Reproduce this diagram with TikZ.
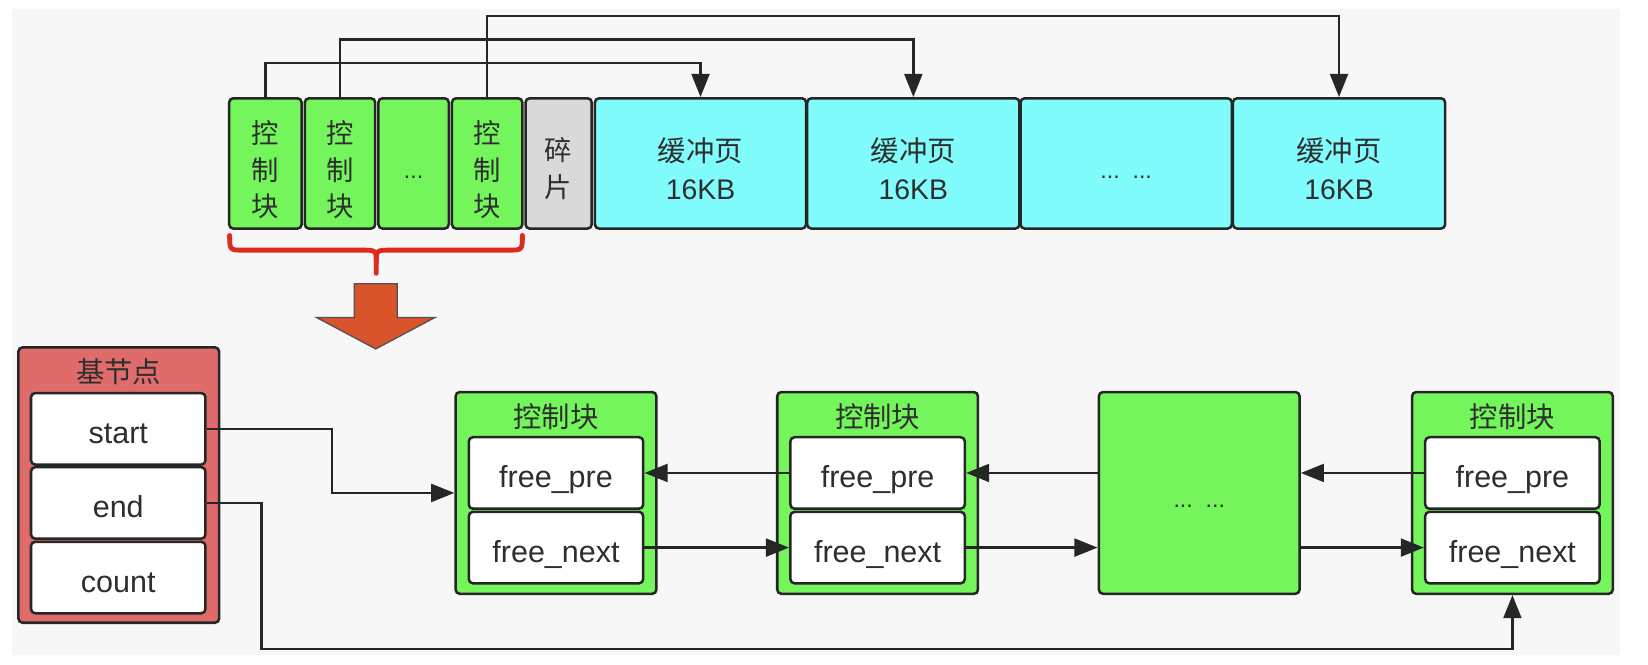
\documentclass[tikz,border=0pt]{standalone}
\usepackage{fontspec}
\setmainfont{Liberation Sans}
\newfontfamily\cjk{Noto Sans CJK SC}
\usetikzlibrary{arrows.meta}
\definecolor{bgc}{HTML}{F7F7F7}
\definecolor{gfill}{HTML}{74F55C}
\definecolor{cfill}{HTML}{7FFCFB}
\definecolor{grayf}{HTML}{D9D9D9}
\definecolor{rfill}{HTML}{E06B6B}
\definecolor{ofill}{HTML}{D9532B}
\definecolor{bracec}{HTML}{E02A1E}
\definecolor{edge}{HTML}{262626}
\definecolor{txt}{HTML}{2E2E2E}
\newcommand{\lowdots}[1]{\raisebox{-7pt}[0pt][0pt]{#1}}
\begin{document}
\begin{tikzpicture}[x=0.5pt,y=-0.5pt,
  blk/.style={draw=edge, line width=1.2pt, rounded corners=2pt, inner sep=0pt, text=txt, align=center},
  gblk/.style={blk, fill=gfill},
  cblk/.style={blk, fill=cfill},
  sblk/.style={blk, fill=grayf},
  vtext/.style={font=\cjk\fontsize{13}{17.5}\selectfont, text=txt, align=center, inner sep=0pt},
  ptext/.style={font=\fontsize{13.5}{18}\selectfont, text=txt, align=center, inner sep=0pt},
  dtext/.style={font=\fontsize{11}{13}\selectfont},
  ttl/.style={font=\cjk\fontsize{13.5}{16}\selectfont, text=txt},
  inbox/.style={blk, fill=white, minimum width=83pt, minimum height=34pt,
    font=\fontsize{14.5}{16}\selectfont, text height=15pt, text depth=1pt},
  arr/.style={draw=edge, line width=1.2pt, -{Triangle[length=11pt,width=8.5pt]}},
]
\useasboundingbox (0,0) rectangle (1568,632);
\fill[white] (0,0) rectangle (1568,632);
\fill[bgc] (11,9) rectangle (1541,623);

% top row boxes
\node[gblk, minimum width=34.5pt, minimum height=62pt] (c1) at (252.5,155.5) {};
\node[gblk, minimum width=33.5pt, minimum height=62pt] (c2) at (323.5,155.5) {};
\node[gblk, dtext, minimum width=33.5pt, minimum height=62pt] (c3) at (393.5,155.5) {\lowdots{...}};
\node[gblk, minimum width=33.5pt, minimum height=62pt] (c4) at (463.5,155.5) {};
\node[sblk, minimum width=31.5pt, minimum height=62pt] (sp) at (531.5,155.5) {};
\node[cblk, minimum width=100.5pt, minimum height=62pt] (p1) at (666.5,155.5) {};
\node[cblk, minimum width=101pt, minimum height=62pt] (p2) at (869,155.5) {};
\node[cblk, dtext, minimum width=100.5pt, minimum height=62pt] (p3) at (1071.5,155.5) {\lowdots{...\ \ ...}};
\node[cblk, minimum width=101pt, minimum height=62pt] (p4) at (1274,155.5) {};

% top row texts
\node[vtext] (c1t) at ([yshift=-3pt]c1.center) {控\\制\\块};
\node[vtext] (c2t) at ([yshift=-3pt]c2.center) {控\\制\\块};
\node[vtext] (c4t) at ([yshift=-3pt]c4.center) {控\\制\\块};
\node[vtext] (spt) at ([yshift=-2.5pt]sp.center) {碎\\片};
\node[ptext] (p1t) at ([yshift=-2.5pt]p1.center) {{\cjk 缓冲页}\\16KB};
\node[ptext] (p2t) at ([yshift=-2.5pt]p2.center) {{\cjk 缓冲页}\\16KB};
\node[ptext] (p4t) at ([yshift=-2.5pt]p4.center) {{\cjk 缓冲页}\\16KB};

\draw[arr] (c1.north) -- (c1.north |- 0,60) -| (p1.north);
\draw[arr] (c2.north) -- (c2.north |- 0,37.5) -| (p2.north);
\draw[arr] (c4.north) -- (c4.north |- 0,15) -| (p4.north);

% brace
\draw[bracec, line width=2.3pt, line cap=round, line join=round]
  (218.5,224) .. controls (218.5,238) .. (232,238) -- (344,238)
  .. controls (358,238) .. (358,250) -- (358,260);
\draw[bracec, line width=2.3pt, line cap=round, line join=round]
  (497,224) .. controls (497,238) .. (483,238) -- (372,238)
  .. controls (358,238) .. (358,250);

% big arrow
\draw[draw=edge!80, line width=0.6pt, fill=ofill]
  (337,270) -- (378,270) -- (378,302) -- (414,302) -- (357.5,332)
  -- (301,302) -- (337,302) -- cycle;

% base node
\node[blk, fill=rfill, minimum width=95.5pt, minimum height=131pt] (base) at (113,461.5) {};
\node[ttl] (bt) at (113,353.5) {基节点};
\node[inbox] (st) at (112.5,408) {start};
\node[inbox] (en) at (112.5,478.5) {end};
\node[inbox] (co) at (112.5,549.5) {count};

% control block 1
\node[gblk, minimum width=95.5pt, minimum height=96pt] (k1) at (529,469) {};
\node[ttl] (k1t) at (529,396.5) {控制块};
\node[inbox] (k1p) at (529,450) {free\_pre};
\node[inbox] (k1n) at (529,521) {free\_next};

% control block 2
\node[gblk, minimum width=95.5pt, minimum height=96pt] (k2) at (835,469) {};
\node[ttl] (k2t) at (835,396.5) {控制块};
\node[inbox] (k2p) at (835,450) {free\_pre};
\node[inbox] (k2n) at (835,521) {free\_next};

% middle
\node[gblk, dtext, minimum width=95.5pt, minimum height=96pt] (mid) at (1141,469) {\lowdots{...\ \ ...}};

% control block 4
\node[gblk, minimum width=95.5pt, minimum height=96pt] (k4) at (1439,469) {};
\node[ttl] (k4t) at (1439,396.5) {控制块};
\node[inbox] (k4p) at (1439,450) {free\_pre};
\node[inbox] (k4n) at (1439,521) {free\_next};

% connectors
\draw[arr] (st.east) -- (316,408) |- (k1.west |- 0,469);
\draw[arr] (en.east) -- (249,478.5) |- (k4.south |- 0,617.5) -- (k4.south);

\draw[arr] (k2p.west) -- (k1p.east);
\draw[arr] (mid.west |- k2p.east) -- (k2p.east);
\draw[arr] (k4p.west) -- (k4p.west -| mid.east);

\draw[arr] (k1n.east) -- (k2n.west);
\draw[arr] (k2n.east) -- (k2n.east -| mid.west);
\draw[arr] (mid.east |- k4n.west) -- (k4n.west);
\end{tikzpicture}
\end{document}
